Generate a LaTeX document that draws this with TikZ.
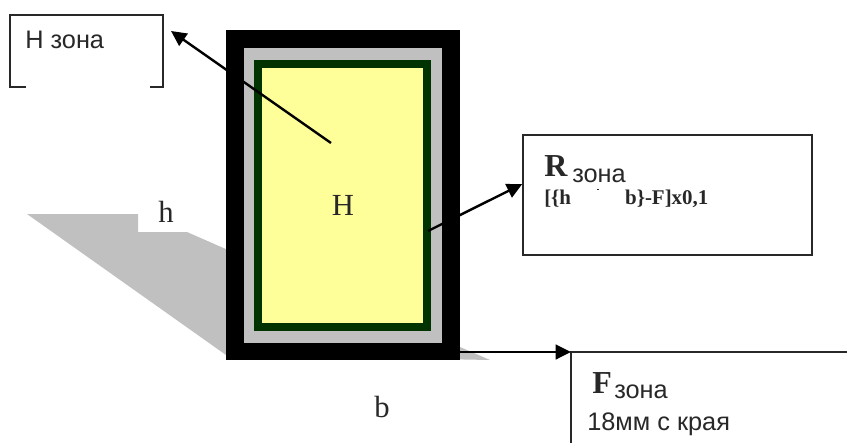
\documentclass[tikz,border=0pt]{standalone}
\usepackage{fontspec}
\setmainfont{Liberation Serif}
\newfontfamily\lab{Liberation Sans}
\usetikzlibrary{arrows.meta}
\definecolor{matgray}{RGB}{192,192,192}
\definecolor{dgreen}{RGB}{0,51,0}
\definecolor{pale}{RGB}{255,255,153}
\definecolor{linec}{RGB}{40,40,40}
\tikzset{
  px/.style={x=0.75pt,y=-0.75pt},
  boxline/.style={draw=linec,line width=1.1pt},
  pointer/.style={draw=black,line width=1.8pt,-{Triangle[length=11.5pt,width=11pt]}},
  txt/.style={inner sep=0pt,anchor=base west},
  sanslab/.style={txt,font=\lab\fontsize{19}{21}\selectfont,text=linec},
  bigser/.style={txt,font=\bfseries\fontsize{24}{26}\selectfont,text=linec},
  serlab/.style={inner sep=0pt,anchor=base,font=\fontsize{23}{25}\selectfont,text=linec}
}
\begin{document}
\begin{tikzpicture}[px]
\useasboundingbox (0,0) rectangle (847,443);
\fill[white] (0,0) rectangle (847,443);
% shadow
\fill[matgray] (27,214) -- (138,214) -- (138,232) -- (187,232) -- (228,250) -- (460,347) -- (490,360) -- (226,355) -- cycle;
% frame
\node[fill=black,minimum width=234*0.75pt,minimum height=330*0.75pt,inner sep=0pt] (frame) at (343,195) {};
\node[fill=matgray,minimum width=198*0.75pt,minimum height=295*0.75pt,inner sep=0pt] (mat) at (343,195.5) {};
\node[fill=pale,draw=dgreen,line width=6pt,minimum width=169*0.75pt,minimum height=263*0.75pt,inner sep=0pt] (pic) at (342.5,195.5) {};
\node[serlab] (H) at (343,215) {H};
\node[serlab] (h) at (166,222) {h};
\node[serlab] (b) at (382,417) {b};
% H box
\draw[boxline] (26,87) -- (10,87) -- (10,15) -- (163,15) -- (163,87) -- (150,87);
\node[sanslab] (hz) at (25,48) {H зона};
% R box
\node[boxline,minimum width=289*0.75pt,minimum height=120*0.75pt,inner sep=0pt] (rbox) at (667.5,195) {};
\node[bigser] (rl) at (544,176) {R};
\node[sanslab] (rz) at (572,182) {зона};
\node[txt,font=\bfseries\fontsize{15.7}{18}\selectfont,text=linec] (rf) at (544,204) {[\{h\hspace{40.5pt}b\}-F]x0,1};
\fill[linec] (597,188.5) rectangle (599,190);
% F box
\coordinate (ftl) at (571,352);
\coordinate (fbl) at (571,443);
\coordinate (ftr) at (847,352);
\draw[boxline] (fbl) -- (ftl) -- (ftr);
\node[bigser] (fl) at (592,393) {F};
\node[sanslab] (fz) at (614,398) {зона};
\node[sanslab] (fd) at (587,430) {18мм с края};
% arrows
\coordinate (hs) at (331,143);
\coordinate (ht) at (171,31);
\coordinate (rs) at (428,231);
\coordinate (fs) at (460,352);
\draw[pointer] (hs) -- (ht);
\draw[pointer] (rs) -- (rbox.west |- 0,184);
\draw[pointer] (fs) -- (ftl);
\end{tikzpicture}
\end{document}
